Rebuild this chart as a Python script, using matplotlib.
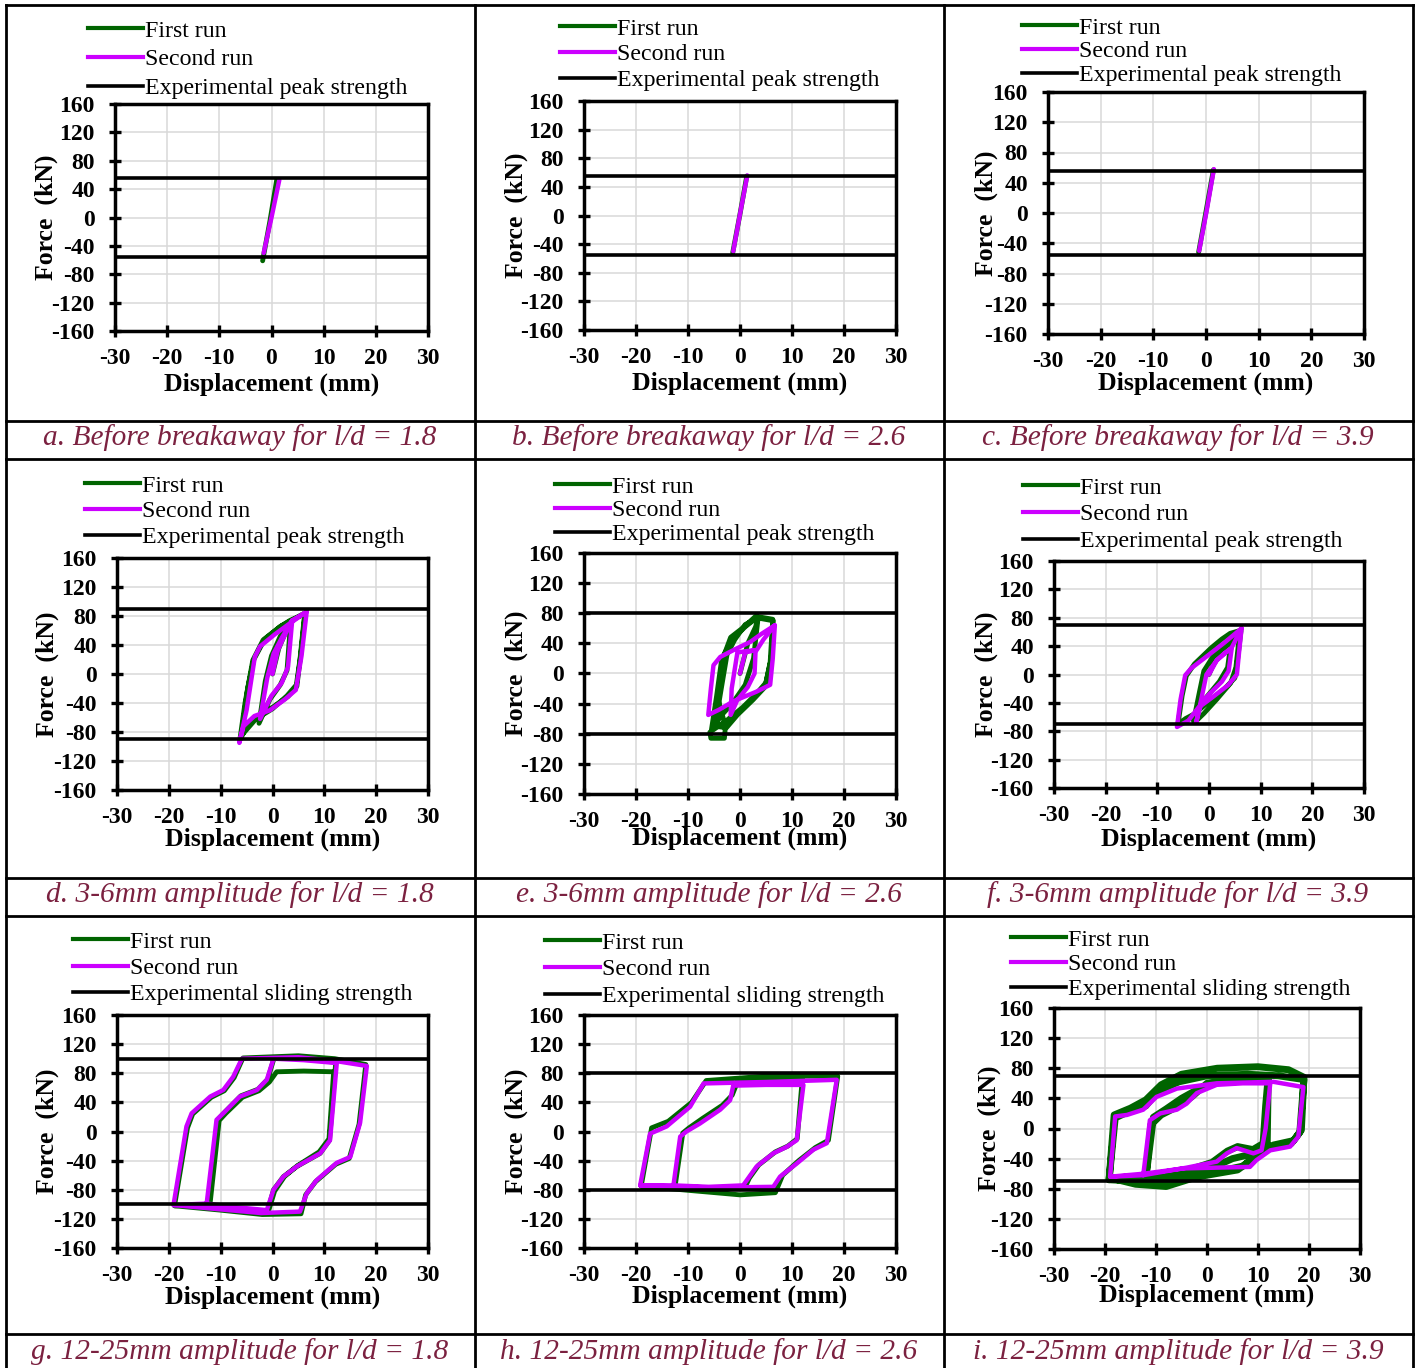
import matplotlib
matplotlib.use('Agg')
import matplotlib.pyplot as plt
from matplotlib.lines import Line2D

plt.rcParams['font.family'] = ['Liberation Serif', 'DejaVu Serif']
plt.rcParams['axes.unicode_minus'] = False

# ---- data ----
CAPTIONS = ['a. Before breakaway for l/d = 1.8', 'b. Before breakaway for l/d = 2.6',
            'c. Before breakaway for l/d = 3.9', 'd. 3-6mm amplitude for l/d = 1.8',
            'e. 3-6mm amplitude for l/d = 2.6', 'f. 3-6mm amplitude for l/d = 3.9',
            'g. 12-25mm amplitude for l/d = 1.8', 'h. 12-25mm amplitude for l/d = 2.6',
            'i. 12-25mm amplitude for l/d = 3.9']
RUN_LABELS = ['First run', 'Second run']
STRENGTH_LABELS = ['Experimental peak strength'] * 6 + ['Experimental sliding strength'] * 3
STRENGTH = [55, 55, 55, 90, 80, 70, 100, 80, 70]
X_TICKS = [-30, -20, -10, 0, 10, 20, 30]
Y_TICKS = [-160, -120, -80, -40, 0, 40, 80, 120, 160]

# panel a
A_G_X = [-1.7, -0.3, 1.0]
A_G_Y = [-61, -5, 53]
A_M_X = [-1.5, 0.0, 1.5]
A_M_Y = [-50, 0, 53]
# panel b
B_G_X = [-1.4, 0.0, 1.3]
B_G_Y = [-52, 2, 55]
B_M_X = [-1.3, 0.0, 1.4]
B_M_Y = [-50, 2, 56]
# panel c
C_G_X = [-1.4, 0.0, 1.4]
C_G_Y = [-52, 2, 57]
C_M_X = [-1.3, 0.1, 1.5]
C_M_Y = [-50, 2, 58]
# panel d
D_G_X = [0, 1.2, 2.2, 3.5, 2.8, 1.5, -0.5, -2.6, -1.4, -0.2, 1.5, 3.6, 5.0, 6.3, 5.5, 4.7, 3.0, 0.2,
         -3.1, -5.0, -6.3, -5.3, -3.8, -1.8, 1.4, 3.4, 6.2, 5.3, 4.6, 2.8, 0.0, -3.2, -6.0, -4.8,
         -3.6, -1.5, 1.6, 6.3]
D_G_Y = [0, 35, 52, 72, 5, -15, -35, -68, -10, 25, 52, 73, 79, 84, 30, -17, -31, -45, -59, -73,
         -91, -40, 19, 47, 65, 74, 83, 20, -15, -30, -48, -62, -85, -20, 20, 48, 66, 84]
D_M_X = [0, 1.0, 2.0, 3.8, 3.0, 1.8, -0.2, -2.4, -1.0, 0.2, 1.8, 3.8, 6.6, 5.6, 4.5, 2.4, -0.5,
         -3.5, -5.6, -6.4, -5.0, -3.4, -2.4, 0.5, 3.0, 6.6]
D_M_Y = [0, 32, 48, 74, 10, -12, -30, -62, -5, 28, 50, 74, 86, 25, -22, -35, -50, -58, -72, -95,
         -50, 24, 38, 55, 68, 86]
# panel e
E_G_X = [0, 1.5, 3.0, 3.5, 2.6, 1.0, -1.5, -3.5, -5.5, -4.5, -3.5, -1.5, 1.0, 3.2, 6.4, 6.0, 5.0,
         3.0, 0.5, -2.5, -5.8, -5.6, -3.0, -2.8, -4.2, -3.3, -1.8, 0.8, 3.0, 6.3, 5.8, 4.8, 2.5,
         -0.5, -2.6, -4.8, -3.6, -2.5, -1.0, 1.0, 3.5]
E_G_Y = [0, 40, 62, 75, 20, -15, -40, -55, -75, -30, 20, 45, 62, 74, 70, 20, -12, -28, -45, -62,
         -78, -86, -86, -70, -35, 20, 48, 62, 76, 72, 15, -18, -35, -55, -72, -70, -20, 25, 45,
         65, 74]
E_M_X = [0, 1.0, 3.0, 2.8, 1.5, -0.5, -1.8, -1.6, -0.5, 1.5, 3.2, 4.5, 6.7, 6.3, 5.8, 3.2, -1.3,
         -4.0, -6.1, -5.6, -5.1, -3.8, -1.0, 2.0, 4.0, 6.7]
E_M_Y = [0, 28, 31, 0, -18, -35, -55, -20, 28, 30, 31, 45, 64, 20, -15, -24, -37, -48, -55, -20,
         11, 22, 32, 42, 52, 64]
# panel f
F_G_X = [0, 1.5, 3.0, 4.2, 3.6, 2.0, -0.5, -2.0, -3.0, -2.0, -1.0, 1.0, 4.1, 6.2, 5.6, 5.0, 3.0,
         0.0, -2.7, -4.5, -6.0, -5.2, -4.4, -2.8, 0.5, 2.5, 4.1, 6.0, 5.2, 4.2, 1.5, -1.0, -2.7]
F_G_Y = [0, 25, 35, 42, 10, -10, -32, -45, -66, -30, 5, 28, 45, 62, 25, -5, -20, -38, -55, -62,
         -70, -30, -2, 15, 38, 50, 58, 62, 10, -12, -35, -55, -67]
F_M_X = [0, 1.5, 3.0, 4.4, 3.8, 2.5, 0.0, -1.5, -2.5, -1.5, -0.5, 1.5, 4.4, 6.3, 5.8, 5.4, 3.7,
         0.5, -2.1, -4.0, -6.2, -5.5, -4.6, -3.4, 0.0, 3.0, 6.3]
F_M_Y = [0, 20, 30, 37, 5, -10, -28, -40, -68, -35, 0, 20, 38, 65, 30, 0, -15, -33, -47, -65, -74,
         -35, -1, 9, 28, 45, 65]
# panel g
G_G_X = [-12.0, -10.3, -9.0, -5.8, -2.6, -0.6, 0.8, 6.0, 11.8, 10.9, 9.0, 4.8, 2.3, 0.4, -0.8,
         -7.0, -12.3, -10.6, -9.3, -6.1, -2.8, -0.9, 0.3, 6.0, 12.2, 11.0, 9.2, 4.7, 2.1, 0.2, -1.0,
         -7.0, -12.5, -18.9, -16.4, -15.4, -11.8, -9.3, -7.4, -5.7, 5.0, 12.0, 18.0, 16.7, 14.8,
         12.2, 8.3, 6.4, 5.5, -2.0, -10.0, -18.9]
G_G_Y = [-96, 15, 25, 47, 56, 68, 82, 83, 82, -10, -28, -47, -62, -82, -110, -106, -100, 16, 26,
         49, 58, 72, 101, 100, 95, -12, -30, -48, -62, -80, -111, -107, -100, -102, 5, 24, 47, 56,
         74, 101, 104, 100, 92, 10, -37, -45, -69, -87, -113, -114, -108, -102]
G_M_X = [-12.7, -10.8, -9.5, -6.3, -3.0, -1.1, 0.2, 6.0, 12.4, 11.1, 9.2, 4.7, 2.1, 0.2, -1.1,
         -7.0, -12.7, -19.1, -16.6, -15.6, -12.0, -9.5, -7.6, -5.9, 5.0, 12.0, 18.2, 16.9, 15.0,
         12.4, 8.5, 6.6, 5.3, -2.2, -10.0, -19.1]
G_M_Y = [-99, 16, 25, 48, 57, 71, 100, 98, 94, -12, -30, -48, -62, -80, -108, -104, -99, -101, 7,
         25, 48, 57, 75, 100, 102, 97, 90, 12, -35, -43, -67, -85, -110, -112, -107, -101]
# panel h
H_G_X = [-12.5, -11.0, -9.8, -7.2, -3.4, -1.5, -0.5, 5.0, 12.0, 11.0, 9.2, 6.8, 3.6, 1.8, 1.0,
         -6.0, -12.5, -19.0, -17.0, -13.8, -9.3, -6.5, 5.0, 18.8, 17.0, 14.5, 11.3, 8.2, 6.8, 0.0,
         -8.0, -19.0]
H_G_Y = [-76, -2, 5, 18, 36, 50, 68, 72, 74, -10, -20, -28, -46, -64, -76, -82, -76, -75, 5, 14,
         40, 70, 76, 76, -12, -22, -40, -60, -84, -87, -82, -75]
H_M_X = [-12.8, -11.5, -10.3, -7.7, -3.8, -1.9, -1.3, 5.0, 12.2, 10.9, 9.0, 6.4, 3.2, 1.3, 0.6,
         -6.0, -12.8, -19.2, -17.3, -14.1, -9.6, -7.0, 5.0, 18.6, 16.7, 14.1, 10.9, 7.7, 6.4, -5.0,
         -19.2]
H_M_Y = [-74, -7, 0, 11, 30, 43, 63, 64, 64, -12, -21, -30, -48, -67, -74, -76, -74, -74, -3, 7,
         34, 66, 68, 71, -16, -25, -44, -62, -76, -77, -74]
# panel i
I_G_X = [-19.2, -18.5, -18.0, -15.5, -12.0, -9.5, -5.5, 0.0, 8.0, 14.0, 19.0, 18.2, 16.5, 12.5,
         9.5, 6.0, 0.0, -8.0, -19.2, -18.2, -15.0, -12.0, -9.0, -5.0, 2.0, 10.0, 16.0, 19.0, 18.5,
         17.0, 13.0, 10.0, 7.0, 0.0, -8.0, -14.0, -18.8, -12.0, -11.0, -9.0, -5.5, -3.0, 0.0, 6.0,
         12.0, 11.5, 11.0, 9.0, 6.0, 4.0, 1.0, -5.0, -12.0, -10.5, -8.0, -5.0, -1.0, 2.0, 12.0,
         11.8, 10.0, 5.0, 0.0, -6.0, -12.0]
I_G_Y = [-68, -20, 14, 22, 30, 50, 62, 70, 72, 70, 65, -5, -20, -25, -38, -55, -62, -72, -68, 18,
         27, 38, 58, 72, 80, 82, 78, 68, -2, -16, -22, -34, -50, -60, -77, -74, -66, -66, 5, 18,
         30, 42, 60, 66, 68, 30, -20, -28, -24, -30, -45, -58, -66, 15, 26, 40, 55, 62, 65, -22,
         -32, -40, -55, -62, -68]
I_M_X = [-12.5, -11.2, -9.2, -5.9, -4.0, -2.0, 1.9, 7.0, 12.4, 11.5, 10.7, 9.1, 5.8, 3.9, 1.9,
         -4.0, -12.5, -19.0, -18.0, -15.7, -12.5, -9.9, -5.9, 1.9, 13.0, 18.9, 17.9, 16.3, 12.4,
         9.7, 8.4, -4.6, -12.4, -19.0]
I_M_Y = [-62, 11, 20, 25, 33, 47, 58, 60, 60, 0, -29, -33, -26, -33, -44, -52, -62, -64, 16, 18,
         25, 42, 53, 60, 62, 55, -11, -24, -29, -42, -51, -53, -60, -64]

FIRST = [(A_G_X, A_G_Y), (B_G_X, B_G_Y), (C_G_X, C_G_Y), (D_G_X, D_G_Y), (E_G_X, E_G_Y),
         (F_G_X, F_G_Y), (G_G_X, G_G_Y), (H_G_X, H_G_Y), (I_G_X, I_G_Y)]
SECOND = [(A_M_X, A_M_Y), (B_M_X, B_M_Y), (C_M_X, C_M_Y), (D_M_X, D_M_Y), (E_M_X, E_M_Y),
          (F_M_X, F_M_Y), (G_M_X, G_M_Y), (H_M_X, H_M_Y), (I_M_X, I_M_Y)]

# ---- layout (pixels) ----
W, H = 1416, 1368
AX_PX = [(115, 104, 428, 331), (584, 101, 896, 330), (1048, 92, 1364, 334),
         (117, 558, 428, 790), (584, 553, 896, 794), (1054, 561, 1364, 788),
         (117, 1015, 428, 1248), (584, 1015, 896, 1248), (1054, 1008, 1360, 1249)]
LEG_PX = [(88, 32, 29), (560, 30, 26), (1022, 29, 24), (85, 487, 26), (555, 488, 24),
          (1023, 489, 27), (73, 943, 26.5), (545, 944, 27), (1011, 941, 25)]
YLAB_OFF = [70, 69, 63, 71, 69, 69, 71, 69, 66]
XLAB_OFF = [55, 55, 51, 51, 46, 53, 51, 50, 48]
CAP_PX = [(240, 438), (709, 438), (1178, 438), (240, 895), (709, 895), (1178, 895),
          (240, 1352), (709, 1352), (1178, 1352)]
GREEN = '#006400'
MAGENTA = '#CC00FF'
CAP_COLOR = '#7B2140'
LEG_FS = 17.2
LEG_PX_EM = LEG_FS * 100 / 72

fig = plt.figure(figsize=(W / 100, H / 100), dpi=100)

for i in range(9):
    l, t, r, b = AX_PX[i]
    ax = fig.add_axes([l / W, 1 - b / H, (r - l) / W, (b - t) / H])
    gx, gy = FIRST[i]
    mx, my = SECOND[i]
    glw = 5 if i == 8 else 3.5
    lg, = ax.plot(gx, gy, color=GREEN, lw=glw, solid_joinstyle='round', solid_capstyle='round')
    lm, = ax.plot(mx, my, color=MAGENTA, lw=3.2, solid_joinstyle='round', solid_capstyle='round')
    lp = ax.axhline(STRENGTH[i], color='black', lw=2.6, zorder=5)
    ax.axhline(-STRENGTH[i], color='black', lw=2.6, zorder=5)
    lg_h = Line2D([], [], color=GREEN, lw=3)
    lm_h = Line2D([], [], color=MAGENTA, lw=3)
    ax.set_xlim(-30, 30)
    ax.set_ylim(-160, 160)
    ax.set_xticks(X_TICKS)
    ax.set_yticks(Y_TICKS)
    ax.grid(True, color='#D9D9D9', lw=1.1)
    ax.set_axisbelow(True)
    for s in ax.spines.values():
        s.set_linewidth(2.5)
    ax.tick_params(direction='inout', length=9, width=2.4, labelsize=17)
    ax.tick_params(axis='x', pad=8)
    ax.tick_params(axis='y', pad=10)
    for lab in ax.get_xticklabels() + ax.get_yticklabels():
        lab.set_fontweight('bold')
    ax.set_xlabel('Displacement (mm)', fontsize=18.5, fontweight='bold')
    ax.set_ylabel('Force  (kN)', fontsize=18.5, fontweight='bold')
    w_px, h_px = r - l, b - t
    ax.xaxis.set_label_coords(0.5, -(XLAB_OFF[i] - 13) / h_px)
    ax.yaxis.set_label_coords(-(YLAB_OFF[i] - 13) / w_px, 0.5)

    hx, hy, sp = LEG_PX[i]
    fig.legend([lg_h, lm_h, lp], RUN_LABELS + [STRENGTH_LABELS[i]],
               loc='upper left', bbox_to_anchor=(hx / W, 1 - (hy - 12) / H),
               frameon=False, fontsize=LEG_FS, borderpad=0, borderaxespad=0,
               handlelength=2.3, handletextpad=0.1,
               labelspacing=max(0.0, (sp - 22) / LEG_PX_EM))

    cx, cy = CAP_PX[i]
    fig.text(cx / W, 1 - cy / H, CAPTIONS[i], ha='center', va='center', style='italic',
             fontsize=21.2, color=CAP_COLOR)

# table frame
for x in [6, 475, 944, 1413]:
    fig.add_artist(Line2D([x / W, x / W], [1 - 5 / H, 0], color='black', lw=2,
                          transform=fig.transFigure))
for y in [5, 421, 459, 878, 916, 1334]:
    fig.add_artist(Line2D([6 / W, 1413 / W], [1 - y / H, 1 - y / H], color='black', lw=2,
                          transform=fig.transFigure))

fig.savefig('out.png', dpi=100)
